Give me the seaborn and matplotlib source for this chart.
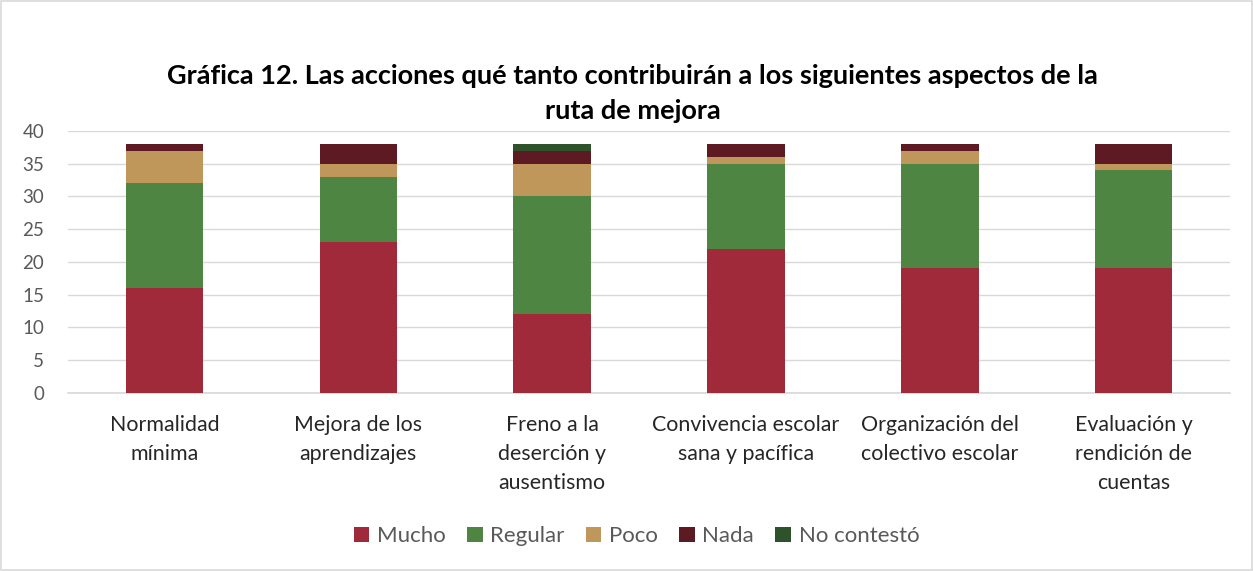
import seaborn as sns
import pandas as pd
import numpy as np
import matplotlib.pyplot as plt
from matplotlib.patches import Patch, Rectangle

# Data
categorias = ["Normalidad\nmínima", "Mejora de los\naprendizajes", "Freno a la\ndeserción y\nausentismo",
              "Convivencia escolar\nsana y pacífica", "Organización del\ncolectivo escolar",
              "Evaluación y\nrendición de\ncuentas"]
mucho = [16, 23, 12, 22, 19, 19]
regular = [16, 10, 18, 13, 16, 15]
poco = [5, 2, 5, 1, 2, 1]
nada = [1, 3, 2, 2, 1, 3]
no_contesto = [0, 0, 1, 0, 0, 0]

series = ["Mucho", "Regular", "Poco", "Nada", "No contestó"]
colores = ["#A12A3A", "#4E8542", "#C0975A", "#5E1A22", "#2E5229"]

df = pd.DataFrame({"categoria": categorias, "Mucho": mucho, "Regular": regular,
                   "Poco": poco, "Nada": nada, "No contestó": no_contesto})

sns.set_theme(style="white")
plt.rcParams["font.family"] = ["Lato", "DejaVu Sans"]

fig = plt.figure(figsize=(12.53, 5.71), dpi=100)
ax = fig.add_axes([0.054, 0.312, 0.928, 0.4588])

# stacked bars: draw cumulative totals from tallest to shortest
acum = df[series].cumsum(axis=1)
for s, c in reversed(list(zip(series, colores))):
    sns.barplot(x=df["categoria"], y=acum[s], color=c, width=0.4, ax=ax,
                saturation=1, linewidth=0, zorder=3)

ax.set_ylim(0, 40)
ax.set_yticks(range(0, 41, 5))
ax.grid(axis="y", color="#D9D9D9", linewidth=1, zorder=0)
ax.set_axisbelow(True)
for sp in ["top", "right", "left"]:
    ax.spines[sp].set_visible(False)
ax.spines["bottom"].set_color("#D9D9D9")
ax.set_xlabel("")
ax.set_ylabel("")
ax.tick_params(axis="y", labelsize=13.5, colors="#595959", length=0, pad=17)
ax.tick_params(axis="x", labelsize=15.4, colors="#262626", length=0, pad=16)
for lbl in ax.get_xticklabels():
    lbl.set_linespacing(1.55)
    lbl.set_verticalalignment("top")

fig.text(0.505, 0.837, "Gráfica 12. Las acciones qué tanto contribuirán a los siguientes aspectos de la\nruta de mejora",
         ha="center", va="center", fontsize=19.5, fontweight="bold", color="#000000", linespacing=1.55)

handles = [Patch(facecolor=c, edgecolor="none") for c in colores]
fig.legend(handles, series, loc="center", bbox_to_anchor=(0.508, 0.061), ncol=5, frameon=False,
           fontsize=16, handlelength=0.7, handleheight=0.7, handletextpad=0.35, columnspacing=0.95,
           labelcolor="#595959")

fig.patches.append(Rectangle((0.001, 0.001), 0.998, 0.998, transform=fig.transFigure,
                             fill=False, edgecolor="#D9D9D9", linewidth=1.2))

fig.savefig("out.png", dpi=100)
